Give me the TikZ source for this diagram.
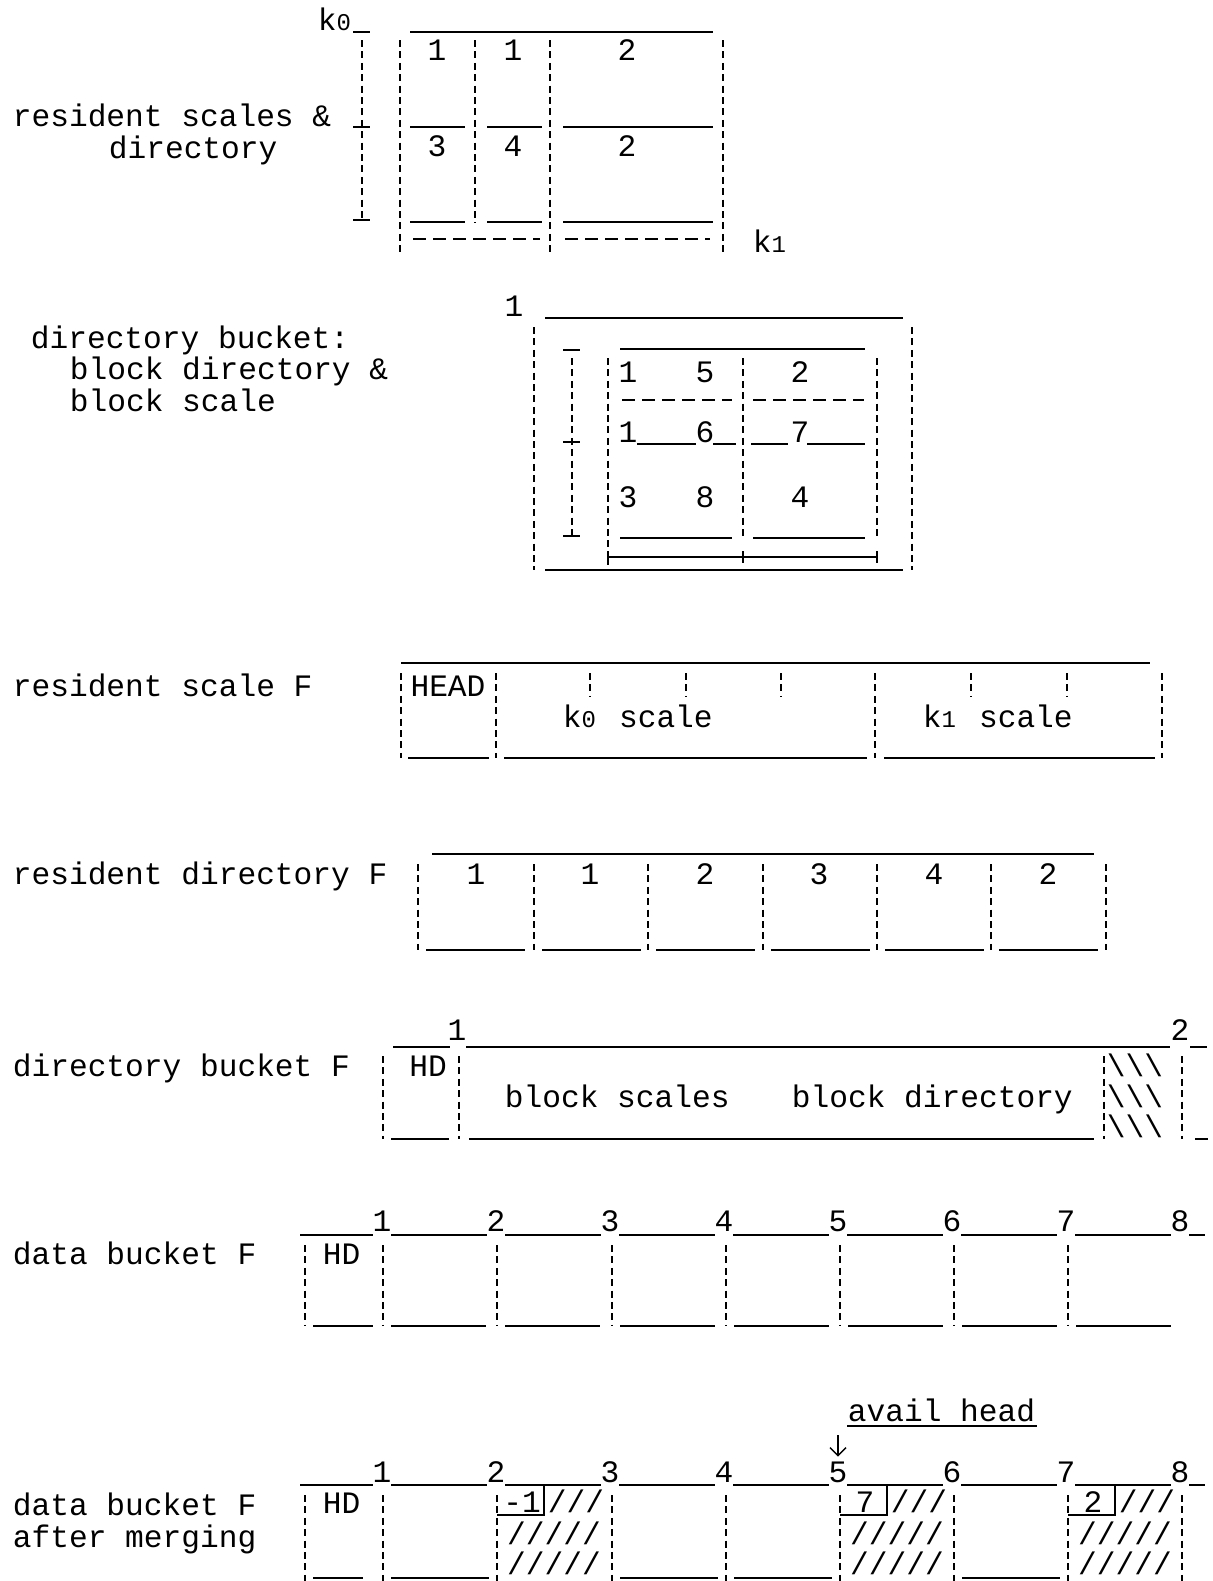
\documentclass[tikz,border=0pt]{standalone}
\usepackage{fontspec}
\newfontfamily\typew{Liberation Mono}
\usepackage{tikz}
\usetikzlibrary{arrows.meta}
\newcommand\kk[1]{k\makebox[0.6em][l]{\fontsize{12}{12}\selectfont #1}}

\begin{document}
\begin{tikzpicture}[x=0.5pt, y=-0.5pt, line width=0.9pt,
    every node/.style={font=\typew\fontsize{15.6}{18}\selectfont, inner sep=0pt},
    bar/.style={dash pattern=on 3.5pt off 2.2pt},
    hyph/.style={dash pattern=on 6.5pt off 3.5pt}]
  \useasboundingbox (0,0) rectangle (1212,1581);

  % resident scales & directory
  \node[anchor=base west] (rs) at (12,126) {resident scales \&};
  \node[anchor=base west] (rsd) at (108,158) {directory};
  \node[anchor=base west] (kzero) at (317,30) {\kk0};
  \node[anchor=base west] (kone) at (752,252) {\kk1};
  \draw (353,32) -- (370,32);
  \draw[bar] (362,40) -- (362,220);
  \draw (353,127) -- (370,127) (353,220) -- (370,220);
  \draw (410,32) -- (713,32);
  \foreach \x in {400,550,723} \draw[bar] (\x,40) -- (\x,253);
  \draw[bar] (475,40) -- (475,223);
  \foreach \y in {127,222} \draw (410,\y) -- (465,\y) (487,\y) -- (542,\y) (563,\y) -- (713,\y);
  \draw[hyph] (413,239) -- (540,239) (565,239) -- (710,239);
  \foreach \x/\y/\v [count=\i] in {437/60/1,513/60/1,627/60/2,437/156/3,513/156/4,627/156/2}
    \node[anchor=base] (c\i) at (\x,\y) {\v};

  % directory bucket
  \node[anchor=base west] (db) at (30,348) {directory bucket:};
  \node[anchor=base west] (db2) at (69,379) {block directory \&};
  \node[anchor=base west] (db3) at (69,411) {block scale};
  \node[anchor=base] (one) at (514,316) {1};
  \draw (545,318) -- (903,318) (545,570) -- (903,570);
  \foreach \x in {534,912} \draw[bar] (\x,327) -- (\x,570);
  \draw (563,350) -- (580,350);
  \draw[bar] (572,358) -- (572,536);
  \draw (563,442) -- (580,442) (563,536) -- (580,536);
  \draw (620,349) -- (865,349);
  \draw[bar] (608,358) -- (608,565);
  \foreach \x in {743,877} \draw[bar] (\x,358) -- (\x,540);
  \draw[hyph] (622,400) -- (732,400) (753,400) -- (864,400);
  \draw (637,444) -- (696,444) (713,444) -- (736,444) (751,444) -- (788,444) (807,444) -- (865,444);
  \draw (620,538) -- (732,538) (753,538) -- (865,538);
  \draw (608,557) -- (877,557);
  \foreach \x in {608,743,877} \draw (\x,551) -- (\x,563);
  \foreach \x/\y/\v [count=\i] in {628/382/1,705/382/5,800/382/2,628/442/1,705/442/6,800/442/7,628/507/3,705/507/8,800/507/4}
    \node[anchor=base] (e\i) at (\x,\y) {\v};

  % resident scale F
  \node[anchor=base west] (rsf) at (12,696) {resident scale F};
  \draw (401,663) -- (1150,663);
  \foreach \x in {401,496,875,1162} \draw[bar] (\x,673) -- (\x,758);
  \foreach \x in {590,686,781,971,1067} \draw[bar] (\x,673) -- (\x,696);
  \node[anchor=base] (head) at (448,696) {HEAD};
  \node[anchor=base west] (kzs) at (562,727) {\kk0 scale};
  \node[anchor=base west] (kos) at (922,727) {\kk1 scale};
  \draw (408,758) -- (489,758) (504,758) -- (867,758) (884,758) -- (1155,758);

  % resident directory F
  \node[anchor=base west] (rdf) at (12,884) {resident directory F};
  \draw (432,854) -- (1094,854);
  \foreach \x in {418,534,648,763,877,991,1106} \draw[bar] (\x,864) -- (\x,950);
  \foreach \x in {418,534,648,763,877,991} \draw (\x+8,950) -- (\x+107,950);
  \foreach \x/\v [count=\i] in {476/1,590/1,705/2,819/3,934/4,1048/2}
    \node[anchor=base] (d\i) at (\x,884) {\v};

  % directory bucket F
  \node[anchor=base west] (dbf) at (12,1076) {directory bucket F};
  \node[anchor=base] (bone) at (457,1040) {1};
  \node[anchor=base] (btwo) at (1180,1040) {2};
  \draw (393,1047) -- (450,1047) (466,1047) -- (1170,1047) (1190,1047) -- (1207,1047);
  \foreach \x in {383,459,1104,1182} \draw[bar] (\x,1056) -- (\x,1139);
  \node[anchor=base] (hda) at (428,1076) {HD};
  \node[anchor=base west] (bsc) at (504,1107) {block scales};
  \node[anchor=base west] (bdir) at (791,1107) {block directory};
  \foreach \y [count=\i] in {1076,1107,1137}
    \node[anchor=base] (bh\i) at (1135,\y) {\textbackslash\textbackslash\textbackslash};
  \draw (391,1139) -- (449,1139) (469,1139) -- (1094,1139) (1195,1139) -- (1208,1139);

  % data bucket F
  \node[anchor=base west] (dtf) at (12,1264) {data bucket F};
  \foreach \x [count=\i] in {382,496,610,724,838,952,1066,1180}
    \node[anchor=base] (a\i) at (\x,1231) {\i};
  \draw (300,1235) -- (373,1235) (1189,1235) -- (1205,1235);
  \foreach \x in {382,496,610,724,838,952,1066} \draw (\x+9,1235) -- (\x+105,1235);
  \foreach \x in {305,383,497,612,726,840,954,1068} \draw[bar] (\x,1245) -- (\x,1326);
  \node[anchor=base west] (hdb) at (322,1264) {HD};
  \draw (313,1326) -- (373,1326);
  \foreach \x in {383,497,612,726,840,954,1068} \draw (\x+8,1326) -- (\x+103,1326);

  % data bucket F after merging
  \node[anchor=base west] (dmf) at (12,1515) {data bucket F};
  \node[anchor=base west] (dmf2) at (12,1547) {after merging};
  \node[anchor=base west] (avail) at (847,1421) {avail head};
  \draw (847,1426) -- (1037,1426);
  \foreach \x [count=\i] in {382,496,610,724,838,952,1066,1180}
    \node[anchor=base] (m\i) at (\x,1482) {\i};
  \coordinate (arr) at (838,1435);
  \draw[-{Straight Barb[length=4pt]}, line width=0.7pt, shorten >=2pt] (arr) -- (m5.north);
  \draw (300,1485) -- (373,1485) (1189,1485) -- (1205,1485);
  \foreach \x in {382,496,610,724,838,952,1066} \draw (\x+9,1485) -- (\x+105,1485);
  \foreach \x in {305,383,497,612,726,840,954,1068,1182} \draw[bar] (\x,1495) -- (\x,1581);
  \node[anchor=base west] (hdc) at (322,1513) {HD};
  \foreach \x/\v in {497/-1,840/7,1068/2} {
    \draw (\x,1515) -- (\x+47,1515) -- (\x+47,1485);
    \node[anchor=base] (lnk\x) at (\x+25,1512) {\v};
    \node[anchor=base west] (ha\x) at (\x+50,1512) {///};
    \node[anchor=base] (hb\x) at (\x+57,1544) {/////};
    \node[anchor=base] (hc\x) at (\x+57,1574) {/////};
  }
  \draw (313,1578) -- (363,1578) (391,1578) -- (489,1578) (620,1578) -- (718,1578)
    (734,1578) -- (832,1578) (962,1578) -- (1060,1578);
\end{tikzpicture}
\end{document}
